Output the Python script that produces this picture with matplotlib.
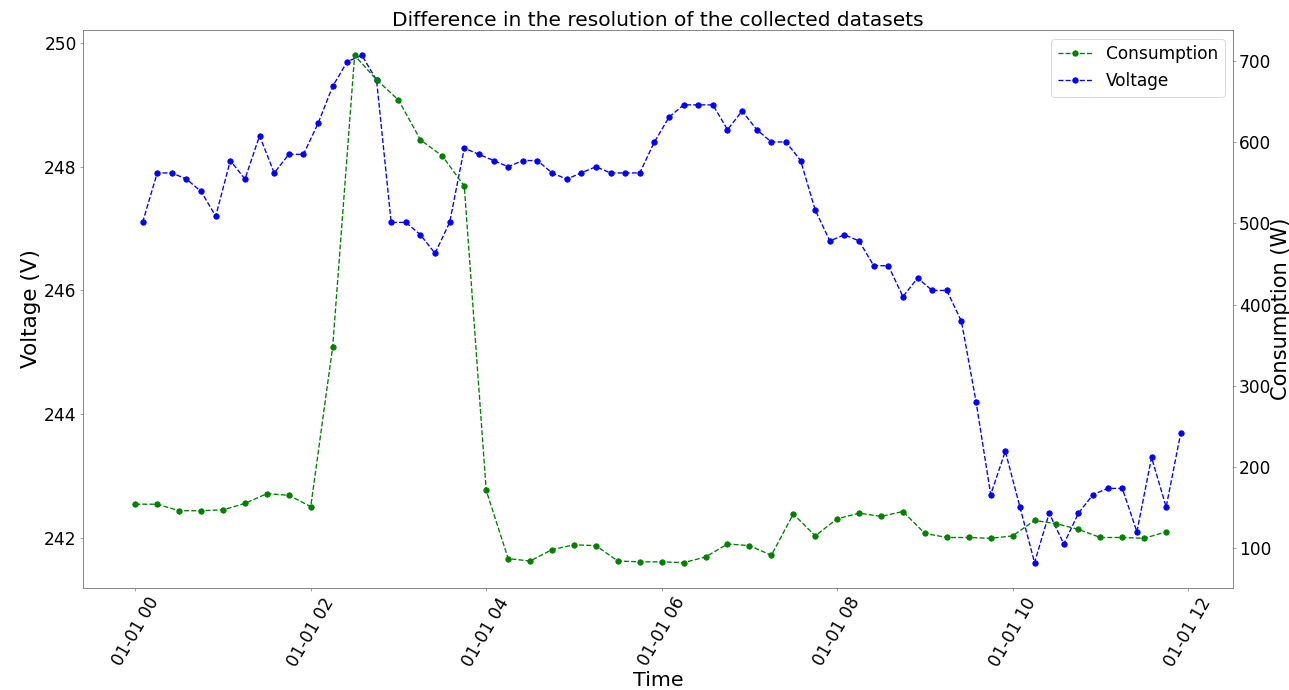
import numpy as np
import pandas as pd
import matplotlib
matplotlib.use('Agg')
import matplotlib.pyplot as plt
import matplotlib.dates as mdates

# Consumption is logged every 15 min, voltage every 10 min (first sample at 00:05)
t_cons = pd.date_range('2021-01-01 00:00', periods=48, freq='15min')
t_volt = pd.date_range('2021-01-01 00:05', periods=72, freq='10min')

# Consumption (W)
consumption = [154, 154, 146, 146, 147, 155, 167, 165, 151, 348,
               707, 677, 652, 603, 583, 546,
               171, 87, 84, 98, 104, 103, 84, 83,
               83, 82, 89, 105, 103, 91, 142, 115, 136, 143, 139, 145,
               118, 113, 113, 112, 115, 134, 130, 123, 113, 113, 112, 120]

# Voltage (V)
voltage = [247.1, 247.9, 247.9, 247.8, 247.6, 247.2, 248.1, 247.8, 248.5, 247.9,
           248.2, 248.2, 248.7, 249.3, 249.7, 249.8, 249.4, 247.1, 247.1, 246.9,
           246.6, 247.1, 248.3, 248.2, 248.1, 248.0, 248.1, 248.1, 247.9, 247.8,
           247.9, 248.0, 247.9, 247.9, 247.9,
           248.4, 248.8, 249.0, 249.0, 249.0, 248.6, 248.9, 248.6, 248.4, 248.4,
           248.1, 247.3, 246.8, 246.9, 246.8, 246.4, 246.4, 245.9, 246.2, 246.0, 246.0,
           245.5, 244.2, 242.7, 243.4, 242.5, 241.6, 242.4, 241.9, 242.4, 242.7,
           242.8, 242.8, 242.1, 243.3, 242.5, 243.7]

DPI = 64.45
fig, ax1 = plt.subplots(figsize=(1289 / DPI, 690 / DPI), dpi=DPI)
plt.subplots_adjust(left=0.0644, right=0.9566, top=0.9565, bottom=0.1478)
ax2 = ax1.twinx()

l1, = ax1.plot(t_volt, voltage, 'bo--', label='Voltage')
l2, = ax2.plot(t_cons, consumption, 'go--', label='Consumption')

ax1.xaxis.set_major_locator(mdates.HourLocator(interval=2))
ax1.xaxis.set_major_formatter(mdates.DateFormatter('%m-%d %H'))
for lbl in ax1.get_xticklabels():
    lbl.set_rotation(60)

ax1.tick_params(labelsize=19, color='0.5')
ax2.tick_params(labelsize=19, color='0.5', pad=3)
for ax in (ax1, ax2):
    for sp in ax.spines.values():
        sp.set_color('0.5')

ax1.set_xlabel('Time', fontsize=23, labelpad=2)
ax1.set_ylabel('Voltage (V)', fontsize=24)
ax2.set_ylabel('Consumption (W)', fontsize=23.5, labelpad=0)
ax1.set_title('Difference in the resolution of the collected datasets', fontsize=22.5, pad=5)

ax2.legend([l2, l1], ['Consumption', 'Voltage'], loc='upper right', fontsize=19)

plt.savefig('out.png', dpi=DPI)
